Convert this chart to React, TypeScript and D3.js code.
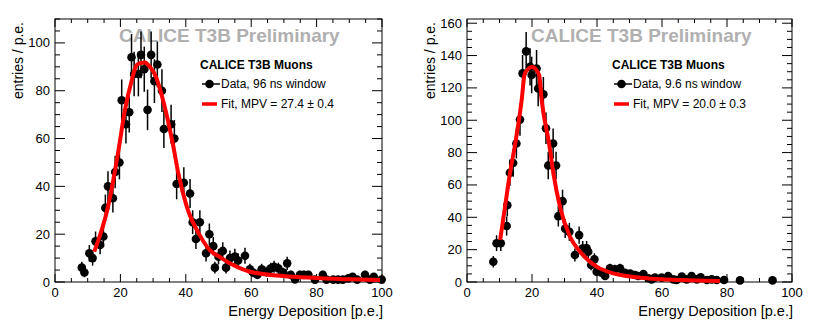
import React from 'react';
import * as d3 from 'd3';

const FONT = '"Liberation Sans", Arial, Helvetica, sans-serif';

// Left panel: 96 ns window, [energy (p.e.), entries / p.e.]
const dataWide: [number, number][] = [
  [8.2, 6], [9, 4], [10.5, 12], [11.5, 10], [12.4, 17], [13.8, 15.5], [14.8, 19], [15.4, 31],
  [16.2, 40], [17.7, 35], [18.4, 46], [19.7, 50], [20.4, 76], [21.7, 66], [22.7, 71], [23.4, 94],
  [24.2, 87], [25.5, 87], [26.3, 95], [27.3, 89], [28.3, 72], [29.4, 95], [30.4, 84], [31.3, 91],
  [32.7, 80], [33.3, 64], [35.5, 66], [36.5, 60], [37.2, 41], [39.4, 41.5], [41.3, 37], [42.1, 25],
  [43.1, 18], [44.3, 25], [46.2, 12], [47.2, 20], [48.4, 15], [48.9, 6], [50, 10.6], [51.3, 13],
  [52.3, 6], [53.5, 10], [55, 10.6], [56, 9], [58.1, 11], [59.6, 5.3], [60.6, 4], [61.9, 3],
  [63.2, 5.3], [64.7, 4.3], [66, 5.7], [67, 6.4], [68.3, 5.7], [69.8, 4], [71, 7.8], [72.1, 3],
  [73.4, 1.1], [74.9, 3], [76.1, 3], [77.5, 3], [79.5, 1], [81.9, 3], [83, 1], [85.1, 1],
  [86.6, 1], [88, 1], [89.7, 1.5], [91, 2.2], [92.4, 1], [94.8, 3], [96.3, 1], [97.5, 2.2], [99.9, 1],
];

const fitWide: [number, number][] = [
  [12, 12.7], [16.3, 32], [19.4, 55], [21.4, 72], [23.5, 84.5], [25, 90.8], [26.3, 91.6], [27.5, 91.8],
  [29, 90], [30.6, 86.6], [33.6, 73], [36.2, 56.6], [37.7, 45.5], [40.3, 31.5], [44.3, 19.5],
  [47.3, 13.4], [50.5, 10.4], [53.5, 7.8], [59.6, 4.3], [69.8, 2.5], [80, 1.7], [90.2, 1.1], [99.4, 0.8],
];

// Right panel: 9.6 ns window
const dataNarrow: [number, number][] = [
  [8.1, 12.5], [9.1, 24], [10.4, 24], [12.2, 34.6], [12.4, 47.5], [13.2, 67.5], [14.2, 73.6], [15.2, 85.6],
  [16.3, 100.4], [17.1, 129], [18.2, 142.6], [19.4, 133], [19.9, 128], [21.4, 132], [21.9, 119.6], [23.5, 116],
  [24.3, 95], [25, 72], [26.5, 85.6], [27.4, 72], [28.1, 40.7], [29.4, 50], [30.2, 33], [31.5, 31],
  [33.2, 16.7], [34.5, 29], [35.6, 20.8], [36.8, 20.8], [37.3, 18.7], [38.2, 10.5], [39.2, 14], [39.9, 6.4],
  [41.4, 5.7], [42.5, 3.7], [44, 8.4], [45.5, 7.8], [47.1, 8.4], [48.6, 5.7], [50.2, 5.3], [51.7, 4.3],
  [52.7, 3.7], [54.3, 4.9], [55.8, 2.3], [56.8, 1.6], [57.8, 2.7], [59.9, 2.7], [61.9, 3.7], [63.5, 1.6],
  [64.5, 1.2], [66.1, 3.3], [67.6, 1.6], [69.1, 3.7], [70.7, 1.6], [71.9, 2.9], [73.8, 1.2], [75.3, 1.6],
  [76.8, 1.2], [79.1, 1.2], [84, 1], [94, 1],
];

const fitNarrow: [number, number][] = [
  [10.2, 26], [11.7, 46.5], [13.2, 67], [14.8, 85], [16.8, 112], [17.8, 129], [20, 133], [22.2, 128],
  [23, 112], [25.3, 85], [26.6, 67], [28.6, 46.5], [31.7, 28], [34.8, 18.7], [39.9, 9.5], [45, 5.3],
  [55.3, 2.3], [65.5, 1.2], [77.8, 0.6],
];

const xTicks = d3.range(0, 101, 20);
const xMinor = d3.range(0, 101, 5);

const TOP = 19;
const BOTTOM = 282;

function Panel({ left, right, yMax, data, fit, dataLabel, fitLabel, yStep }: any) {
  const x = d3.scaleLinear().domain([0, 100]).range([left, right]);
  const y = d3.scaleLinear().domain([0, yMax]).range([BOTTOM, TOP]);
  const yTicks = d3.range(0, yMax + 0.01, yStep);
  const yMinor = d3.range(0, yMax + 0.01, yStep / 4);
  const line = d3.line<[number, number]>()
    .x(d => x(d[0]))
    .y(d => y(d[1]))
    .curve(d3.curveMonotoneX);
  const lx = left + 145;

  return (
    <g fontFamily={FONT}>
      {/* watermark */}
      <text x={left + 64} y={42} fontSize={19} fontWeight="bold" fill="#b0b0b0">CALICE T3B Preliminary</text>

      {/* ticks */}
      {xMinor.map(t => {
        const major = t % 20 === 0;
        const len = major ? 8 : 4;
        return (
          <g key={'x' + t} stroke="#000" strokeWidth={1}>
            <line x1={x(t)} x2={x(t)} y1={BOTTOM} y2={BOTTOM - len} />
            <line x1={x(t)} x2={x(t)} y1={TOP} y2={TOP + len} />
          </g>
        );
      })}
      {yMinor.map(t => {
        const major = Math.abs(t / yStep - Math.round(t / yStep)) < 1e-6;
        const len = major ? 10 : 5;
        return (
          <g key={'y' + t} stroke="#000" strokeWidth={1}>
            <line x1={left} x2={left + len} y1={y(t)} y2={y(t)} />
            <line x1={right} x2={right - len} y1={y(t)} y2={y(t)} />
          </g>
        );
      })}
      <rect x={left} y={TOP} width={right - left} height={BOTTOM - TOP} fill="none" stroke="#000" strokeWidth={1} />

      {/* tick labels */}
      {xTicks.map(t => (
        <text key={'xl' + t} x={x(t)} y={297} fontSize={13} textAnchor="middle">{t}</text>
      ))}
      {yTicks.map(t => (
        <text key={'yl' + t} x={left - 5} y={y(t) + 4.5} fontSize={13} textAnchor="end">{t}</text>
      ))}

      {/* axis titles */}
      <text x={right + 1} y={316} fontSize={14.5} textAnchor="end">Energy Deposition [p.e.]</text>
      <text transform={`translate(${left - 32},22) rotate(-90)`} fontSize={14} textAnchor="end">entries / p.e.</text>

      {/* data */}
      {data.map((d: [number, number], i: number) => {
        const e = Math.sqrt(d[1]);
        return (
          <g key={'d' + i}>
            <line x1={x(d[0])} x2={x(d[0])} y1={y(Math.max(0, d[1] - e))} y2={y(d[1] + e)} stroke="#000" strokeWidth={1.5} />
            <circle cx={x(d[0])} cy={y(d[1])} r={4.3} fill="#000" />
          </g>
        );
      })}

      {/* fit */}
      <path d={line(fit) || ''} fill="none" stroke="#ff0000" strokeWidth={4} />

      {/* legend */}
      <text x={lx} y={69} fontSize={12} fontWeight="bold">CALICE T3B Muons</text>
      <line x1={lx + 2} x2={lx + 20} y1={84} y2={84} stroke="#000" strokeWidth={1.5} />
      <circle cx={lx + 9.5} cy={84} r={4.3} fill="#000" />
      <text x={lx + 21} y={88} fontSize={12}>{dataLabel}</text>
      <line x1={lx + 2} x2={lx + 17} y1={104} y2={104} stroke="#ff0000" strokeWidth={3.5} />
      <text x={lx + 21} y={108} fontSize={12}>{fitLabel}</text>
    </g>
  );
}

export default function App() {
  return (
    <svg width={822} height={324} style={{ position: 'absolute', left: 0, top: 0, background: '#fff' }}>
      <rect width={822} height={324} fill="#fff" />
      <Panel left={55} right={382} yMax={110} yStep={20} data={dataWide} fit={fitWide}
        dataLabel="Data, 96 ns window" fitLabel="Fit, MPV = 27.4 ± 0.4" />
      <Panel left={467} right={792} yMax={162.6} yStep={20} data={dataNarrow} fit={fitNarrow}
        dataLabel="Data, 9.6 ns window" fitLabel="Fit, MPV = 20.0 ± 0.3" />
    </svg>
  );
}
